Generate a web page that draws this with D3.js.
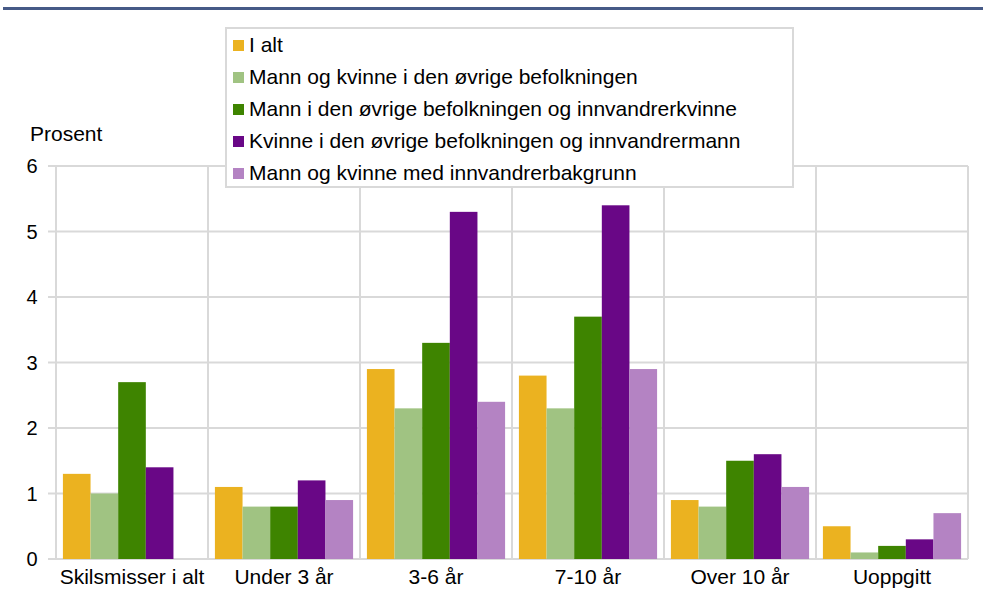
<!DOCTYPE html>
<html>
<head>
<meta charset="utf-8">
<script src="https://cdn.jsdelivr.net/npm/d3@7"></script>
<style>
  body { margin: 0; background: #fff; }
  svg { font-family: "Liberation Sans", Arial, sans-serif; }
</style>
</head>
<body>
<div id="chart"></div>
<script>
const categories = ["Skilsmisser i alt", "Under 3 år", "3-6 år", "7-10 år", "Over 10 år", "Uoppgitt"];
const seriesNames = [
  "I alt",
  "Mann og kvinne i den øvrige befolkningen",
  "Mann i den øvrige befolkningen og innvandrerkvinne",
  "Kvinne i den øvrige befolkningen og innvandrermann",
  "Mann og kvinne med innvandrerbakgrunn",
];
const iAlt = [1.3, 1.1, 2.9, 2.8, 0.9, 0.5];
const begge = [1.0, 0.8, 2.3, 2.3, 0.8, 0.1];
const mannInnvKvinne = [2.7, 0.8, 3.3, 3.7, 1.5, 0.2];
const kvinneInnvMann = [1.4, 1.2, 5.3, 5.4, 1.6, 0.3];
const innvBakgrunn = [null, 0.9, 2.4, 2.9, 1.1, 0.7];
const yTicks = [0, 1, 2, 3, 4, 5, 6];
const colors = ["#ebb220", "#a0c382", "#3e8400", "#690786", "#b483c3"];

const series = [iAlt, begge, mannInnvKvinne, kvinneInnvMann, innvBakgrunn];

const width = 983, height = 592;
const margin = { top: 166, right: 15, bottom: 33, left: 56 };

const svg = d3.select("#chart").append("svg")
  .attr("width", width)
  .attr("height", height);

// top rule
svg.append("rect")
  .attr("x", 3).attr("y", 7)
  .attr("width", width - 3).attr("height", 3)
  .attr("fill", "#465a87");

const x = d3.scaleBand()
  .domain(categories)
  .range([margin.left, width - margin.right]);

const xInner = d3.scaleBand()
  .domain(d3.range(series.length))
  .range([0, x.bandwidth()])
  .paddingOuter(0.25);

const y = d3.scaleLinear()
  .domain([0, 6])
  .range([height - margin.bottom, margin.top]);

const grid = svg.append("g").attr("stroke", "#d9d9d9").attr("stroke-width", 2);

// horizontal gridlines
grid.selectAll(".h")
  .data(yTicks)
  .join("line")
  .attr("x1", margin.left - 8)
  .attr("x2", width - margin.right)
  .attr("y1", d => y(d))
  .attr("y2", d => y(d));

// vertical gridlines at category boundaries
const bounds = categories.map(c => x(c)).concat([x(categories[categories.length - 1]) + x.bandwidth()]);
grid.selectAll(".v")
  .data(bounds)
  .join("line")
  .attr("x1", d => d)
  .attr("x2", d => d)
  .attr("y1", y(6))
  .attr("y2", y(0));

// bars
series.forEach((vals, si) => {
  svg.append("g")
    .selectAll("rect")
    .data(vals.map((v, i) => ({ cat: categories[i], v })).filter(d => d.v != null))
    .join("rect")
    .attr("x", d => x(d.cat) + xInner(si))
    .attr("width", xInner.bandwidth())
    .attr("y", d => y(d.v))
    .attr("height", d => y(0) - y(d.v))
    .attr("fill", colors[si]);
});

// y tick labels
svg.append("g")
  .selectAll("text")
  .data(yTicks)
  .join("text")
  .attr("x", 32)
  .attr("y", d => y(d) + 7)
  .attr("text-anchor", "middle")
  .attr("font-size", 20)
  .attr("fill", "#000")
  .text(d => d);

svg.append("text")
  .attr("x", 30)
  .attr("y", 141)
  .attr("font-size", 21)
  .text("Prosent");

// x labels
svg.append("g")
  .selectAll("text")
  .data(categories)
  .join("text")
  .attr("x", d => x(d) + x.bandwidth() / 2)
  .attr("y", 584)
  .attr("text-anchor", "middle")
  .attr("font-size", 21)
  .text(d => d);

// legend
const lg = svg.append("g");
lg.append("rect")
  .attr("x", 226).attr("y", 28)
  .attr("width", 567).attr("height", 159)
  .attr("fill", "#fff")
  .attr("stroke", "#d9d9d9")
  .attr("stroke-width", 2);

const items = lg.selectAll("g.item")
  .data(seriesNames)
  .join("g")
  .attr("transform", (d, i) => `translate(233, ${52 + i * 32})`);

items.append("rect")
  .attr("x", 0).attr("y", -12)
  .attr("width", 11).attr("height", 11)
  .attr("fill", (d, i) => colors[i]);

items.append("text")
  .attr("x", 16)
  .attr("y", 0)
  .attr("font-size", 21)
  .text(d => d);
</script>
</body>
</html>
